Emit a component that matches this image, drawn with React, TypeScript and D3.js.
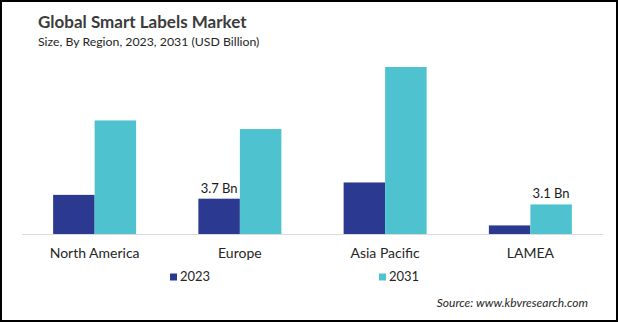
import React from "react";
import * as d3 from "d3";

const categories = ["North America", "Europe", "Asia Pacific", "LAMEA"];
const seriesNames = ["2023", "2031"];
const values2023 = [4.1, 3.7, 5.4, 0.9];
const values2031 = [11.9, 11.0, 17.5, 3.1];
const dataLabels2023 = ["", "3.7 Bn", "", ""];
const dataLabels2031 = ["", "", "", "3.1 Bn"];
const colors = ["#2B3990", "#4EC3CF"];

const W = 619;
const H = 322;
const FONT = "Lato, 'Open Sans', sans-serif";

export default function App() {
  const x0 = d3
    .scaleBand<string>()
    .domain(categories)
    .range([22, 603])
    .paddingInner(0.4286)
    .paddingOuter(0.2143);
  const x1 = d3
    .scaleBand<string>()
    .domain(seriesNames)
    .range([0, x0.bandwidth()])
    .padding(0);
  const y = d3.scaleLinear().domain([0, 17.5]).range([234, 67]);

  const series = [values2023, values2031];
  const labels = [dataLabels2023, dataLabels2031];

  return (
    <svg
      width={W}
      height={H}
      style={{ position: "absolute", left: 0, top: 0, background: "#fff" }}
      fontFamily={FONT}
    >
      <rect x={0} y={0} width={W} height={H} fill="#fff" />
      <text x={38} y={28} fontSize={17} fontWeight={700} fill="#3b3b3b">
        Global Smart Labels Market
      </text>
      <text x={38} y={46} fontSize={12.3} fill="#262626">
        Size, By Region, 2023, 2031 (USD Billion)
      </text>

      {series.map((vals, si) =>
        categories.map((c, ci) => (
          <rect
            key={`${si}-${ci}`}
            x={(x0(c) ?? 0) + (x1(seriesNames[si]) ?? 0)}
            y={y(vals[ci])}
            width={x1.bandwidth()}
            height={y(0) - y(vals[ci])}
            fill={colors[si]}
          />
        ))
      )}

      <line x1={22} x2={603} y1={y(0) + 0.5} y2={y(0) + 0.5} stroke="#d9d9d9" strokeWidth={1} />

      {series.map((vals, si) =>
        categories.map((c, ci) =>
          labels[si][ci] ? (
            <text
              key={`l-${si}-${ci}`}
              x={(x0(c) ?? 0) + (x1(seriesNames[si]) ?? 0) + x1.bandwidth() / 2}
              y={y(vals[ci]) - 6}
              textAnchor="middle"
              fontSize={13}
              fill="#1a1a1a"
            >
              {labels[si][ci]}
            </text>
          ) : null
        )
      )}

      {categories.map((c) => (
        <text
          key={c}
          x={(x0(c) ?? 0) + x0.bandwidth() / 2}
          y={258}
          textAnchor="middle"
          fontSize={14}
          fill="#262626"
        >
          {c}
        </text>
      ))}

      {seriesNames.map((s, i) => {
        const lx = [170, 379][i];
        return (
          <g key={s}>
            <rect x={lx} y={273.5} width={7} height={7} fill={colors[i]} />
            <text x={lx + 10} y={281} fontSize={13} fill="#262626">
              {s}
            </text>
          </g>
        );
      })}

      <text x={588} y={307} textAnchor="end" fontSize={12} fontStyle="italic" fill="#262626">
        Source: www.kbvresearch.com
      </text>

      <rect x={1} y={1} width={616} height={320} fill="none" stroke="#000" strokeWidth={2} />
    </svg>
  );
}
